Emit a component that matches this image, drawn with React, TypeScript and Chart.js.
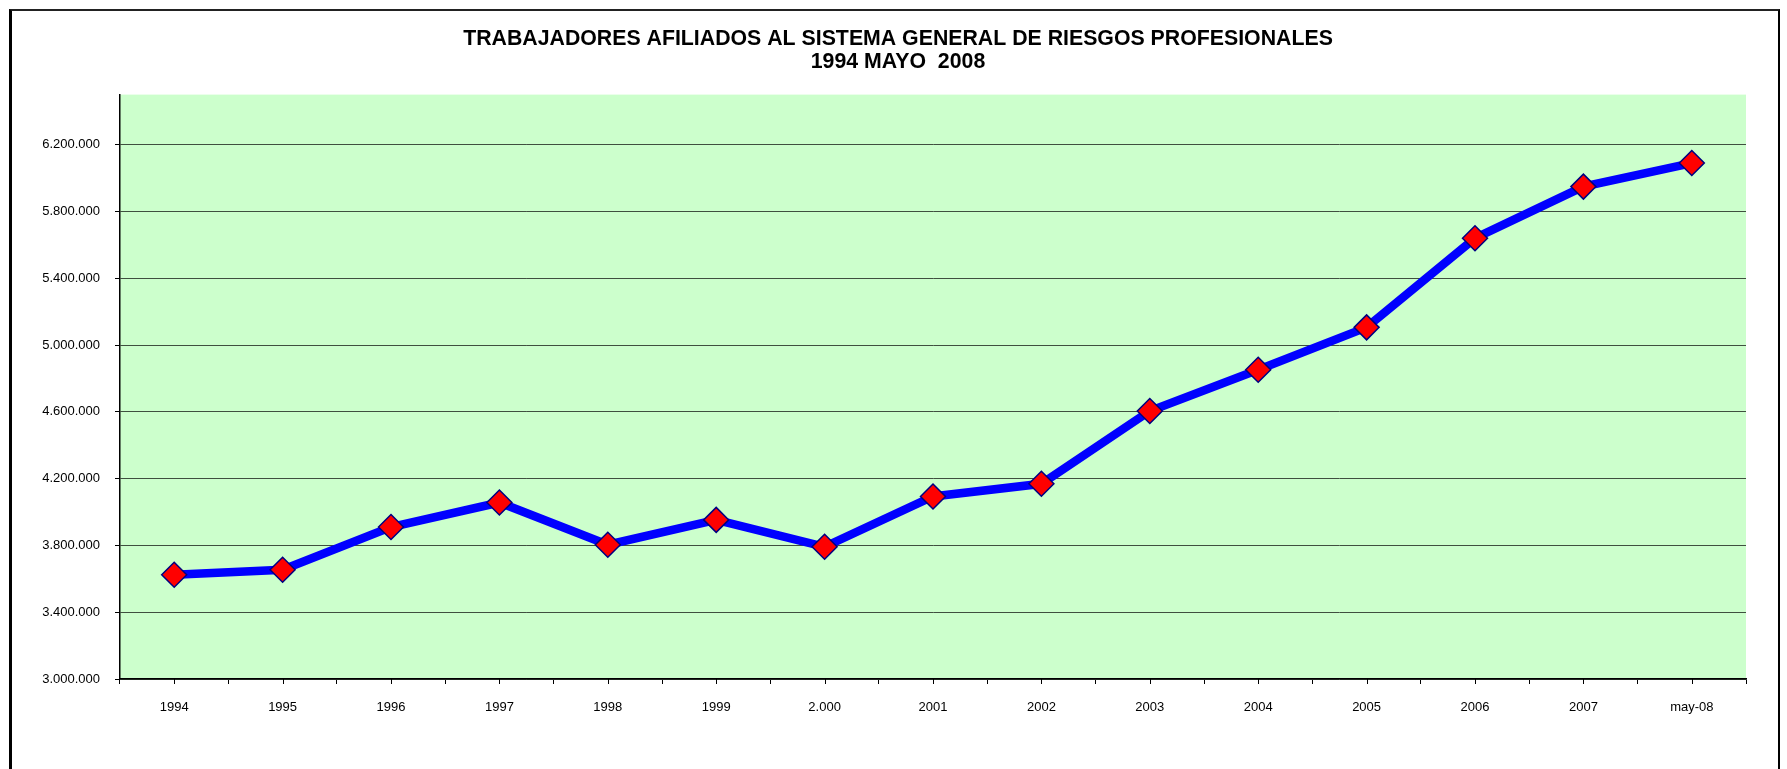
import React, { useEffect, useRef } from 'react';
import { Chart, registerables } from 'chart.js';

Chart.register(...registerables);

const categories = ['1994', '1995', '1996', '1997', '1998', '1999', '2.000', '2001', '2002', '2003', '2004', '2005', '2006', '2007', 'may-08'];
const afiliados = [3624000, 3654000, 3910000, 4057000, 3804000, 3953000, 3792000, 4093000, 4169000, 4605000, 4852000, 5106000, 5640000, 5949000, 6090000];
const yTickValues = [3000000, 3400000, 3800000, 4200000, 4600000, 5000000, 5400000, 5800000, 6200000];
const titleLines = ['TRABAJADORES AFILIADOS AL SISTEMA GENERAL DE RIESGOS PROFESIONALES', '1994 MAYO  2008'];

const FONT = '"Liberation Sans", Arial, Helvetica, sans-serif';

const fmt = (v: number) => String(Math.round(v)).replace(/\B(?=(\d{3})+(?!\d))/g, '.');

const plotBg = {
  id: 'plotBg',
  beforeDraw(chart: any) {
    const { ctx, chartArea } = chart;
    ctx.save();
    ctx.fillStyle = '#CCFFCC';
    ctx.fillRect(chartArea.left, chartArea.top, chartArea.right - chartArea.left, chartArea.bottom - chartArea.top);
    ctx.restore();
  },
};

const extras = {
  id: 'extras',
  afterDraw(chart: any) {
    const { ctx, chartArea } = chart;
    const xs = chart.scales.x;
    ctx.save();
    ctx.strokeStyle = '#000';
    ctx.lineWidth = 1;
    ctx.beginPath();
    for (let i = 0; i < categories.length; i++) {
      const px = Math.round(xs.getPixelForValue(i)) + 0.5;
      ctx.moveTo(px, chartArea.bottom);
      ctx.lineTo(px, chartArea.bottom + 5);
    }
    ctx.stroke();
    ctx.fillStyle = '#000';
    ctx.textAlign = 'center';
    ctx.textBaseline = 'middle';
    ctx.font = `bold 21.3px ${FONT}`;
    ctx.fillText(titleLines[0], 898, 39);
    ctx.fillText(titleLines[1], 898, 62);
    ctx.restore();
  },
};

export default function App() {
  const ref = useRef<HTMLCanvasElement | null>(null);
  useEffect(() => {
    if (!ref.current) return;
    const chart = new Chart(ref.current, {
      type: 'line',
      data: {
        labels: categories,
        datasets: [
          {
            label: 'Trabajadores afiliados',
            data: afiliados,
            borderColor: '#0000FF',
            backgroundColor: '#0000FF',
            borderWidth: 8.5,
            tension: 0,
            pointStyle: 'rectRot',
            pointRadius: 12.5,
            pointHoverRadius: 12.5,
            pointBackgroundColor: '#FF0000',
            pointBorderColor: '#000080',
            pointBorderWidth: 1.5,
            clip: false as any,
          },
        ],
      },
      options: {
        responsive: false,
        animation: false,
        devicePixelRatio: 1,
        layout: { padding: { left: 40, right: 41, top: 94.6, bottom: 0 } },
        plugins: {
          legend: { display: false },
          title: { display: false },
          tooltip: { enabled: false },
        },
        scales: {
          x: {
            type: 'category',
            offset: true,
            grid: {
              offset: true,
              drawOnChartArea: false,
              drawTicks: true,
              tickLength: 5,
              color: '#000',
              tickColor: '#000',
            },
            border: { display: true, color: '#000', width: 1.5 },
            ticks: {
              font: { family: FONT, size: 13 },
              color: '#000',
              padding: 16,
              maxRotation: 0,
              autoSkip: false,
            },
            afterFit: (s: any) => {
              s.height = 90;
            },
          },
          y: {
            type: 'linear',
            min: 3000000,
            max: 6500000,
            afterBuildTicks: (s: any) => {
              s.ticks = yTickValues.map((v) => ({ value: v }));
            },
            grid: {
              color: '#3f4f3f',
              lineWidth: 1,
              tickLength: 5,
              tickColor: '#000',
            },
            border: { display: true, color: '#000', width: 1.5 },
            ticks: {
              callback: (v: any) => fmt(Number(v)),
              font: { family: FONT, size: 13 },
              color: '#000',
              padding: 15,
            },
            afterFit: (s: any) => {
              s.width = 80;
            },
          },
        },
      },
      plugins: [plotBg, extras],
    });
    return () => chart.destroy();
  }, []);

  return (
    <div style={{ position: 'fixed', left: 0, top: 0, width: 1787, height: 769, background: '#fff', overflow: 'hidden' }}>
      <div
        style={{
          position: 'absolute',
          left: 9,
          top: 9,
          width: 1771,
          height: 820,
          boxSizing: 'border-box',
          borderLeft: '3px solid #000',
          borderTop: '2px solid #222',
          borderRight: '2px solid #000',
        }}
      />
      <canvas ref={ref} width={1787} height={769} style={{ position: 'absolute', left: 0, top: 0, display: 'block' }} />
    </div>
  );
}
